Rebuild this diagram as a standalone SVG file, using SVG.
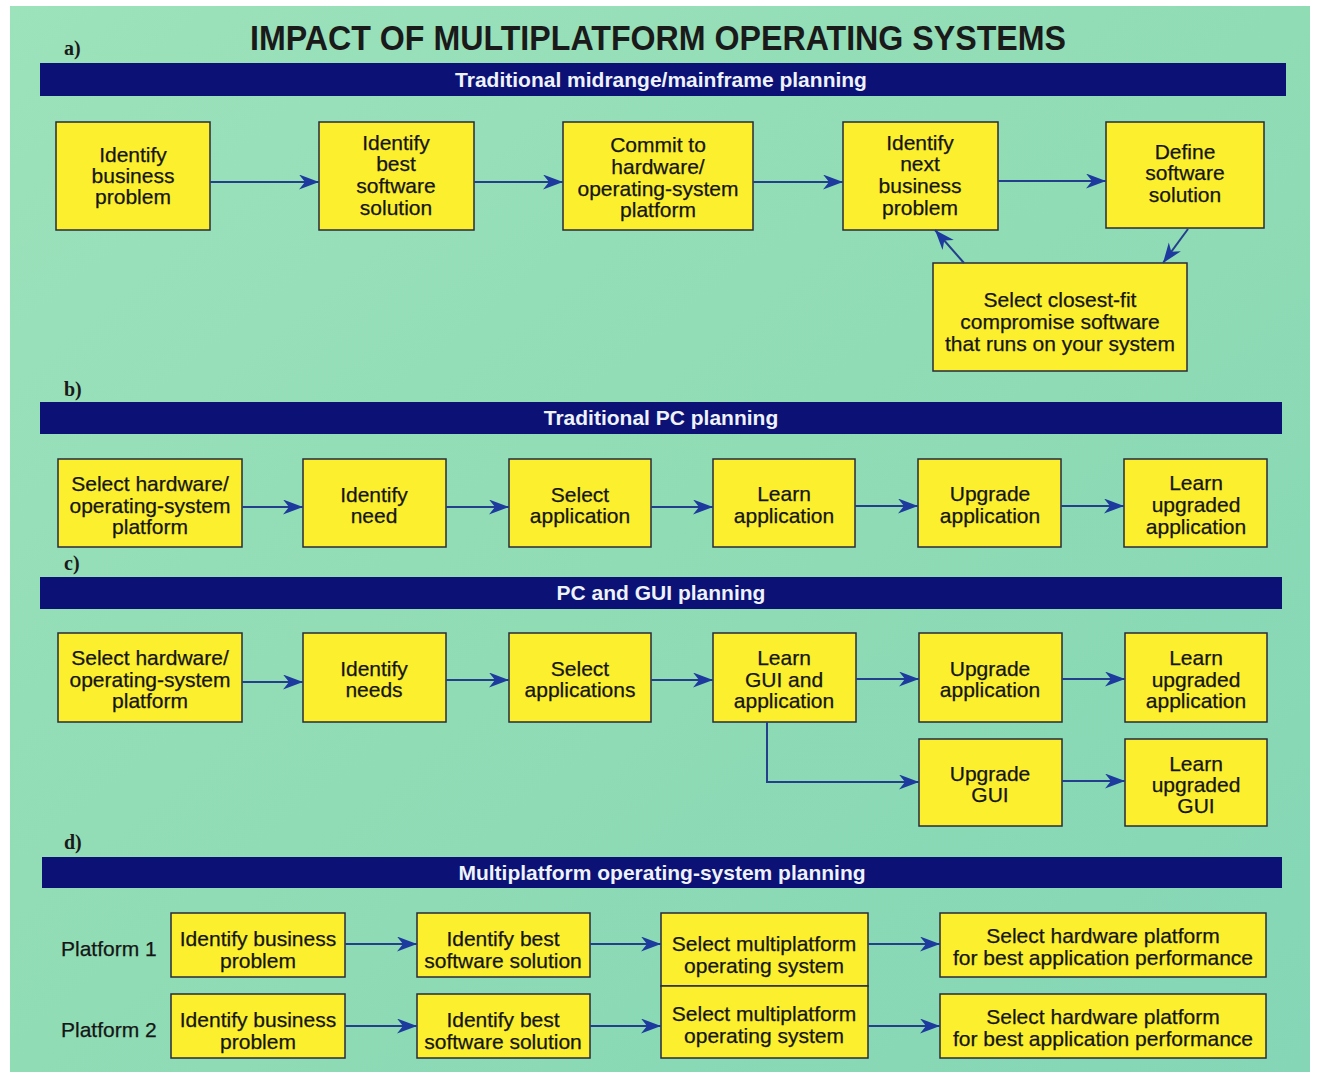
<svg xmlns="http://www.w3.org/2000/svg" width="1318" height="1076" viewBox="0 0 1318 1076">
<defs>
<linearGradient id="bg" x1="0" y1="0" x2="1" y2="1">
<stop offset="0" stop-color="#9ce2bb"/>
<stop offset="0.5" stop-color="#90dcb5"/>
<stop offset="1" stop-color="#84d6b6"/>
</linearGradient>
<marker id="ah" markerUnits="userSpaceOnUse" markerWidth="22" markerHeight="16" refX="20" refY="7.5" orient="auto">
<path d="M0,0 L20,7.5 L0,15 L6,7.5 Z" fill="#1d3a9e"/>
</marker>
<style>
.box{fill:#fbef2e;stroke:#2a2a3a;stroke-width:1.5}
.band{fill:#0b1175}
.bt{font-family:"Liberation Sans",Arial,sans-serif;font-weight:bold;font-size:21px;fill:#eef2fa;text-anchor:middle}
.t{font-family:"Liberation Sans",Arial,sans-serif;font-size:21px;fill:#151515;text-anchor:middle;stroke:#151515;stroke-width:0.25}
.lbl{font-family:"Liberation Serif","Times New Roman",serif;font-weight:bold;font-size:20px;fill:#1a1a1a}
.pl{font-family:"Liberation Sans",Arial,sans-serif;font-size:21px;fill:#151515;stroke:#151515;stroke-width:0.25}
.c{fill:none;stroke:#243f8c;stroke-width:2;marker-end:url(#ah)}
</style>
</defs>
<rect x="0" y="0" width="1318" height="1076" fill="#ffffff"/>
<rect x="10" y="6" width="1300" height="1066" fill="url(#bg)"/>

<text x="658" y="50" font-family="'Liberation Sans',Arial,sans-serif" font-weight="bold" font-size="35" fill="#1a1a1a" text-anchor="middle" textLength="816" lengthAdjust="spacingAndGlyphs">IMPACT OF MULTIPLATFORM OPERATING SYSTEMS</text>

<!-- Section a -->
<text class="lbl" x="64" y="55">a)</text>
<g id="band-a"><rect class="band" x="40" y="63" width="1246" height="33"/><text class="bt" x="661" y="87">Traditional midrange/mainframe planning</text></g>

<g id="a1"><rect class="box" x="56" y="122" width="154" height="108"/><text class="t"><tspan x="133" y="162">Identify</tspan><tspan x="133" y="183">business</tspan><tspan x="133" y="204">problem</tspan></text></g>
<g id="a2"><rect class="box" x="319" y="122" width="155" height="108"/><text class="t"><tspan x="396" y="150">Identify</tspan><tspan x="396" y="171">best</tspan><tspan x="396" y="193">software</tspan><tspan x="396" y="215">solution</tspan></text></g>
<g id="a3"><rect class="box" x="563" y="122" width="190" height="108"/><text class="t"><tspan x="658" y="152">Commit to</tspan><tspan x="658" y="174">hardware/</tspan><tspan x="658" y="196">operating-system</tspan><tspan x="658" y="217">platform</tspan></text></g>
<g id="a4"><rect class="box" x="843" y="122" width="155" height="108"/><text class="t"><tspan x="920" y="150">Identify</tspan><tspan x="920" y="171">next</tspan><tspan x="920" y="193">business</tspan><tspan x="920" y="215">problem</tspan></text></g>
<g id="a5"><rect class="box" x="1106" y="122" width="158" height="106"/><text class="t"><tspan x="1185" y="159">Define</tspan><tspan x="1185" y="180">software</tspan><tspan x="1185" y="202">solution</tspan></text></g>
<g id="a6"><rect class="box" x="933" y="263" width="254" height="108"/><text class="t"><tspan x="1060" y="307">Select closest-fit</tspan><tspan x="1060" y="329">compromise software</tspan><tspan x="1060" y="351">that runs on your system</tspan></text></g>

<!-- Section b -->
<text class="lbl" x="64" y="396">b)</text>
<g id="band-b"><rect class="band" x="40" y="402" width="1242" height="32"/><text class="bt" x="661" y="425">Traditional PC planning</text></g>

<g id="b1"><rect class="box" x="58" y="459" width="184" height="88"/><text class="t"><tspan x="150" y="491">Select hardware/</tspan><tspan x="150" y="513">operating-system</tspan><tspan x="150" y="534">platform</tspan></text></g>
<g id="b2"><rect class="box" x="303" y="459" width="143" height="88"/><text class="t"><tspan x="374" y="502">Identify</tspan><tspan x="374" y="523">need</tspan></text></g>
<g id="b3"><rect class="box" x="509" y="459" width="142" height="88"/><text class="t"><tspan x="580" y="502">Select</tspan><tspan x="580" y="523">application</tspan></text></g>
<g id="b4"><rect class="box" x="713" y="459" width="142" height="88"/><text class="t"><tspan x="784" y="501">Learn</tspan><tspan x="784" y="523">application</tspan></text></g>
<g id="b5"><rect class="box" x="918" y="459" width="143" height="88"/><text class="t"><tspan x="990" y="501">Upgrade</tspan><tspan x="990" y="523">application</tspan></text></g>
<g id="b6"><rect class="box" x="1124" y="459" width="143" height="88"/><text class="t"><tspan x="1196" y="490">Learn</tspan><tspan x="1196" y="512">upgraded</tspan><tspan x="1196" y="534">application</tspan></text></g>

<!-- Section c -->
<text class="lbl" x="64" y="570">c)</text>
<g id="band-c"><rect class="band" x="40" y="577" width="1242" height="32"/><text class="bt" x="661" y="600">PC and GUI planning</text></g>

<g id="c1"><rect class="box" x="58" y="633" width="184" height="89"/><text class="t"><tspan x="150" y="665">Select hardware/</tspan><tspan x="150" y="687">operating-system</tspan><tspan x="150" y="708">platform</tspan></text></g>
<g id="c2"><rect class="box" x="303" y="633" width="143" height="89"/><text class="t"><tspan x="374" y="676">Identify</tspan><tspan x="374" y="697">needs</tspan></text></g>
<g id="c3"><rect class="box" x="509" y="633" width="142" height="89"/><text class="t"><tspan x="580" y="676">Select</tspan><tspan x="580" y="697">applications</tspan></text></g>
<g id="c4"><rect class="box" x="713" y="633" width="143" height="89"/><text class="t"><tspan x="784" y="665">Learn</tspan><tspan x="784" y="687">GUI and</tspan><tspan x="784" y="708">application</tspan></text></g>
<g id="c5"><rect class="box" x="919" y="633" width="143" height="89"/><text class="t"><tspan x="990" y="676">Upgrade</tspan><tspan x="990" y="697">application</tspan></text></g>
<g id="c6"><rect class="box" x="1125" y="633" width="142" height="89"/><text class="t"><tspan x="1196" y="665">Learn</tspan><tspan x="1196" y="687">upgraded</tspan><tspan x="1196" y="708">application</tspan></text></g>
<g id="c7"><rect class="box" x="919" y="739" width="143" height="87"/><text class="t"><tspan x="990" y="781">Upgrade</tspan><tspan x="990" y="802">GUI</tspan></text></g>
<g id="c8"><rect class="box" x="1125" y="739" width="142" height="87"/><text class="t"><tspan x="1196" y="771">Learn</tspan><tspan x="1196" y="792">upgraded</tspan><tspan x="1196" y="813">GUI</tspan></text></g>

<!-- Section d -->
<text class="lbl" x="64" y="849">d)</text>
<g id="band-d"><rect class="band" x="42" y="857" width="1240" height="31"/><text class="bt" x="662" y="880">Multiplatform operating-system planning</text></g>

<text class="pl" x="61" y="956">Platform 1</text>
<text class="pl" x="61" y="1037">Platform 2</text>

<g id="d1"><rect class="box" x="171" y="913" width="174" height="64"/><text class="t"><tspan x="258" y="946">Identify business</tspan><tspan x="258" y="968">problem</tspan></text></g>
<g id="d2"><rect class="box" x="417" y="913" width="173" height="64"/><text class="t"><tspan x="503" y="946">Identify best</tspan><tspan x="503" y="968">software solution</tspan></text></g>
<g id="d3"><rect class="box" x="661" y="913" width="207" height="73"/><text class="t"><tspan x="764" y="951">Select multiplatform</tspan><tspan x="764" y="973">operating system</tspan></text></g>
<g id="d4"><rect class="box" x="940" y="913" width="326" height="64"/><text class="t"><tspan x="1103" y="943">Select hardware platform</tspan><tspan x="1103" y="965">for best application performance</tspan></text></g>
<g id="d5"><rect class="box" x="171" y="994" width="174" height="64"/><text class="t"><tspan x="258" y="1027">Identify business</tspan><tspan x="258" y="1049">problem</tspan></text></g>
<g id="d6"><rect class="box" x="417" y="994" width="173" height="64"/><text class="t"><tspan x="503" y="1027">Identify best</tspan><tspan x="503" y="1049">software solution</tspan></text></g>
<g id="d7"><rect class="box" x="661" y="986" width="207" height="72"/><text class="t"><tspan x="764" y="1021">Select multiplatform</tspan><tspan x="764" y="1043">operating system</tspan></text></g>
<g id="d8"><rect class="box" x="940" y="994" width="326" height="64"/><text class="t"><tspan x="1103" y="1024">Select hardware platform</tspan><tspan x="1103" y="1046">for best application performance</tspan></text></g>

<g id="connectors">
<line class="c" x1="210" y1="182" x2="319" y2="182"/>
<line class="c" x1="474" y1="182" x2="563" y2="182"/>
<line class="c" x1="753" y1="182" x2="843" y2="182"/>
<line class="c" x1="998" y1="181" x2="1106" y2="181"/>
<line class="c" x1="1188" y1="229" x2="1163" y2="263"/>
<line class="c" x1="964" y1="263" x2="935" y2="230"/>

<line class="c" x1="242" y1="507" x2="303" y2="507"/>
<line class="c" x1="446" y1="507" x2="509" y2="507"/>
<line class="c" x1="651" y1="507" x2="713" y2="507"/>
<line class="c" x1="855" y1="506" x2="918" y2="506"/>
<line class="c" x1="1061" y1="506" x2="1124" y2="506"/>

<line class="c" x1="242" y1="682" x2="303" y2="682"/>
<line class="c" x1="446" y1="680" x2="509" y2="680"/>
<line class="c" x1="651" y1="680" x2="713" y2="680"/>
<line class="c" x1="856" y1="679" x2="919" y2="679"/>
<line class="c" x1="1062" y1="679" x2="1125" y2="679"/>
<polyline class="c" points="767,722 767,782 919,782"/>
<line class="c" x1="1062" y1="781" x2="1125" y2="781"/>

<line class="c" x1="345" y1="944" x2="417" y2="944"/>
<line class="c" x1="590" y1="944" x2="661" y2="944"/>
<line class="c" x1="868" y1="944" x2="940" y2="944"/>
<line class="c" x1="345" y1="1026" x2="417" y2="1026"/>
<line class="c" x1="590" y1="1026" x2="661" y2="1026"/>
<line class="c" x1="868" y1="1026" x2="940" y2="1026"/>
</g>
</svg>
